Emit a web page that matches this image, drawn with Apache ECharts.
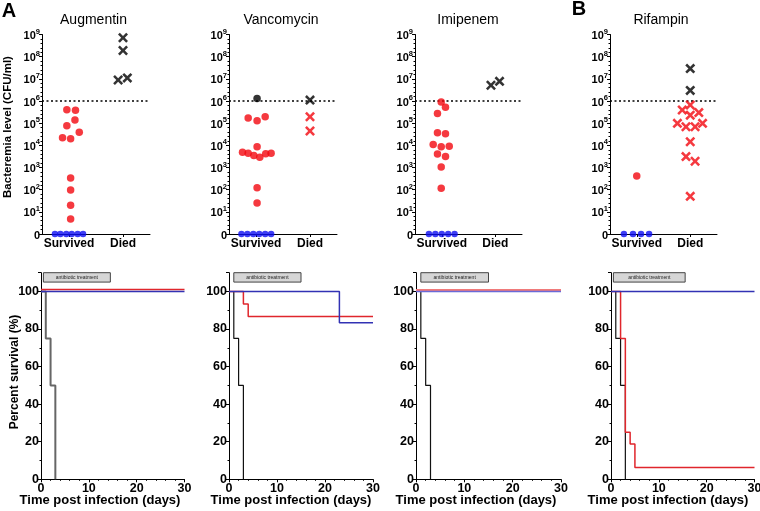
<!DOCTYPE html>
<html><head><meta charset="utf-8">
<script src="https://cdn.jsdelivr.net/npm/echarts@6/dist/echarts.min.js"></script>
<style>html,body{margin:0;padding:0;background:#fff}#c{width:760px;height:511px}</style>
</head><body><div id="c"></div>
<script>
const FONT = '"Liberation Sans", Arial, sans-serif';
const panelTitles = ['Augmentin', 'Vancomycin', 'Imipenem', 'Rifampin'];
const panelLetters = ['A', 'B'];
const groupLabels = ['Survived', 'Died'];
const decadeExponents = [0, 1, 2, 3, 4, 5, 6, 7, 8, 9];
const thresholdCFU = 1e6;

// ---- Bacteremia (CFU/ml); jitter = horizontal spread of the dot cloud (group units)
// Augmentin
const augSurvRed = [4.0e5, 3.8e5, 1.4e5, 7.6e4, 3.9e4, 2.2e4, 2.0e4, 340, 96, 20, 4.8];
const augSurvRedJit = [-0.04, 0.12, 0.11, -0.04, 0.19, -0.12, 0.03, 0.03, 0.03, 0.03, 0.03];
const augSurvZero = [0, 0, 0, 0, 0, 0];
const augSurvZeroJit = [-0.26, -0.16, -0.05, 0.05, 0.16, 0.26];
const augSurvBlack = [];
const augSurvBlackJit = [];
const augDiedBlack = [7.1e8, 1.9e8, 8.9e6, 1.1e7];
const augDiedBlackJit = [0, 0, -0.09, 0.08];
const augDiedRed = [];
const augDiedRedJit = [];
// Vancomycin
const vanSurvRed = [1.7e5, 1.3e5, 1.95e5, 8.7e3, 4.9e3, 4.4e3, 3.5e3, 2.9e3, 4.2e3, 4.4e3, 123, 25];
const vanSurvRedJit = [-0.145, 0.02, 0.17, 0.02, -0.25, -0.145, -0.04, 0.07, 0.18, 0.28, 0.02, 0.02];
const vanSurvZero = [0, 0, 0, 0, 0, 0];
const vanSurvZeroJit = [-0.27, -0.16, -0.05, 0.06, 0.17, 0.28];
const vanSurvBlack = [1.3e6];
const vanSurvBlackJit = [0.02];
const vanDiedBlack = [1.1e6];
const vanDiedBlackJit = [0];
const vanDiedRed = [1.95e5, 4.4e4];
const vanDiedRedJit = [0, 0];
// Imipenem
const imiSurvRed = [9e5, 5.2e5, 2.7e5, 3.7e4, 3.3e4, 1.1e4, 8.7e3, 9.1e3, 4.1e3, 3.1e3, 1.05e3, 115];
const imiSurvRedJit = [-0.01, 0.07, -0.08, -0.08, 0.07, -0.16, -0.01, 0.14, -0.08, 0.07, -0.01, -0.01];
const imiSurvZero = [0, 0, 0, 0, 0];
const imiSurvZeroJit = [-0.24, -0.12, 0, 0.12, 0.24];
const imiSurvBlack = [];
const imiSurvBlackJit = [];
const imiDiedBlack = [5.1e6, 7.7e6];
const imiDiedBlackJit = [-0.08, 0.08];
const imiDiedRed = [];
const imiDiedRedJit = [];
// Rifampin
const rifSurvRed = [410];
const rifSurvRedJit = [0];
const rifSurvZero = [0, 0, 0, 0];
const rifSurvZeroJit = [-0.24, -0.07, 0.08, 0.23];
const rifSurvBlack = [];
const rifSurvBlackJit = [];
const rifDiedBlack = [2.9e7, 3.0e6];
const rifDiedBlackJit = [0, 0];
const rifDiedRed = [6.6e5, 3.9e5, 3.0e5, 2.3e5, 9.8e4, 6.9e4, 6.9e4, 9.8e4, 1.45e4, 3.1e3, 1.9e3, 50];
const rifDiedRedJit = [0, -0.15, 0.16, 0, -0.24, -0.08, 0.09, 0.23, 0, -0.08, 0.09, 0];

// ---- Survival (Kaplan-Meier), day / percent
const surv0Days = [0, 1, 2, 3];
const surv0Pct = [100, 75, 50, 0];
const augRedDays = [0, 30], augRedPct = [101, 101];
const augBlueDays = [0, 30], augBluePct = [100, 100];
const vanRedDays = [0, 3, 4, 30], vanRedPct = [100, 93.3, 86.7, 86.7];
const vanBlueDays = [0, 23, 30], vanBluePct = [100, 83.3, 83.3];
const imiRedDays = [0, 30], imiRedPct = [100.8, 100.8];
const imiBlueDays = [0, 30], imiBluePct = [100, 100];
const rifRedDays = [0, 2, 3, 4, 5, 30], rifRedPct = [100, 75, 25, 18.75, 6.25, 6.25];
const rifBlueDays = [0, 30], rifBluePct = [100, 100];
const abxStartDay = [0.5, 1, 1, 0.5];
const abxEndDay = [14.5, 15, 15, 15.5];
const abxLow = 105, abxHigh = 110;
const survTicks = [0, 20, 40, 60, 80, 100];

const bact = [
  {sr: augSurvRed, srj: augSurvRedJit, sz: augSurvZero, szj: augSurvZeroJit, sb: augSurvBlack, sbj: augSurvBlackJit, db: augDiedBlack, dbj: augDiedBlackJit, dr: augDiedRed, drj: augDiedRedJit},
  {sr: vanSurvRed, srj: vanSurvRedJit, sz: vanSurvZero, szj: vanSurvZeroJit, sb: vanSurvBlack, sbj: vanSurvBlackJit, db: vanDiedBlack, dbj: vanDiedBlackJit, dr: vanDiedRed, drj: vanDiedRedJit},
  {sr: imiSurvRed, srj: imiSurvRedJit, sz: imiSurvZero, szj: imiSurvZeroJit, sb: imiSurvBlack, sbj: imiSurvBlackJit, db: imiDiedBlack, dbj: imiDiedBlackJit, dr: imiDiedRed, drj: imiDiedRedJit},
  {sr: rifSurvRed, srj: rifSurvRedJit, sz: rifSurvZero, szj: rifSurvZeroJit, sb: rifSurvBlack, sbj: rifSurvBlackJit, db: rifDiedBlack, dbj: rifDiedBlackJit, dr: rifDiedRed, drj: rifDiedRedJit}
];
const surv = [
  {rd: augRedDays, rp: augRedPct, bd: augBlueDays, bp: augBluePct, gray: true},
  {rd: vanRedDays, rp: vanRedPct, bd: vanBlueDays, bp: vanBluePct},
  {rd: imiRedDays, rp: imiRedPct, bd: imiBlueDays, bp: imiBluePct},
  {rd: rifRedDays, rp: rifRedPct, bd: rifBlueDays, bp: rifBluePct}
];

// ---- layout
const topGrids = [
  {left: 42, width: 108}, {left: 229, width: 108}, {left: 415, width: 107}, {left: 610, width: 107}
];
const botGrids = [
  {left: 41, width: 143.5}, {left: 229, width: 144}, {left: 416, width: 145}, {left: 611, width: 143.5}
];
const TOP_T = 34.5, TOP_H = 199.5;
const BOT_T = 272.7, BOT_H = 206.6;

const RED = '#f2080f', BLUE = '#0c0cf2', BLK = '#000';
const XPATH = 'path://M1.8,0 L5,3.2 L8.2,0 L10,1.8 L6.8,5 L10,8.2 L8.2,10 L5,6.8 L1.8,10 L0,8.2 L3.2,5 L0,1.8 Z';
const lg = v => v > 0 ? Math.log10(v) : 0;
// group positions on the hidden x value axis: Survived = 1, Died = 2
const pts = (vals, jit, g) => vals.map((v, i) => [g + jit[i], lg(v)]);
const zip = (a, b) => a.map((v, i) => [v, b[i]]);

const grid = [], xAxis = [], yAxis = [], series = [], graphic = [];
const lblBold = {fontFamily: FONT, fontWeight: 'bold', color: '#000'};

topGrids.forEach((g, i) => {
  grid.push({left: g.left, width: g.width, top: TOP_T, height: TOP_H, outerBoundsMode: 'none'});
  const gi = grid.length - 1;
  // visible category axis carrying the group labels
  xAxis.push({
    gridIndex: gi, type: 'category', data: groupLabels, boundaryGap: true, position: 'bottom',
    axisLine: {onZero: false, lineStyle: {color: '#000', width: 1}},
    axisTick: {show: true, alignWithLabel: true, length: 3, lineStyle: {color: '#000'}},
    axisLabel: {margin: 4, fontSize: 12, interval: 0, ...lblBold},
    splitLine: {show: false}
  });
  // hidden value axis used to place the jittered points
  xAxis.push({
    gridIndex: gi, type: 'value', min: 0.5, max: 2.5, show: false, position: 'bottom',
    axisLine: {show: false, onZero: false}, splitLine: {show: false}
  });
  const xi = xAxis.length - 1;
  yAxis.push({
    gridIndex: gi, type: 'value', min: 0, max: 9, interval: 1,
    axisLine: {show: true, onZero: false, lineStyle: {color: '#000', width: 1}},
    axisTick: {show: true, length: 3, lineStyle: {color: '#000'}},
    minorTick: {show: true, splitNumber: 5, length: 1.5, lineStyle: {color: '#000'}},
    axisLabel: {
      margin: 2,
      formatter: v => v === 0 ? '{b|0}' : '{b|10}{s|' + v + '}',
      rich: {
        b: {fontSize: 11, ...lblBold, lineHeight: 14, verticalAlign: 'bottom'},
        s: {fontSize: 7.5, ...lblBold, lineHeight: 14, verticalAlign: 'top', padding: [0, 0, 4, 0]}
      }
    },
    splitLine: {show: false}
  });
  const yi = yAxis.length - 1;
  const d = bact[i];
  const base = {type: 'scatter', xAxisIndex: xi, yAxisIndex: yi, silent: true, z: 5};
  series.push({...base, name: 'sr' + i, data: pts(d.sr, d.srj, 1), symbol: 'circle', symbolSize: 7.5, itemStyle: {color: RED},
    markLine: {silent: true, symbol: 'none', label: {show: false},
      lineStyle: {type: [2, 2.5], color: '#000', width: 1.5},
      data: [{yAxis: lg(thresholdCFU)}]}});
  series.push({...base, name: 'sz' + i, data: pts(d.sz, d.szj, 1), symbol: 'circle', symbolSize: 6.5, itemStyle: {color: BLUE}});
  series.push({...base, name: 'sb' + i, data: pts(d.sb, d.sbj, 1), symbol: 'circle', symbolSize: 7.5, itemStyle: {color: BLK}});
  series.push({...base, name: 'db' + i, data: pts(d.db, d.dbj, 2), symbol: XPATH, symbolSize: 10, itemStyle: {color: BLK}});
  series.push({...base, name: 'dr' + i, data: pts(d.dr, d.drj, 2), symbol: XPATH, symbolSize: 10, itemStyle: {color: RED}});
});

botGrids.forEach((g, i) => {
  grid.push({left: g.left, width: g.width, top: BOT_T, height: BOT_H, outerBoundsMode: 'none'});
  const gi = grid.length - 1;
  xAxis.push({
    gridIndex: gi, type: 'value', min: 0, max: 30, interval: 10,
    axisLine: {onZero: false, lineStyle: {color: '#000', width: 1}},
    axisTick: {length: 3, lineStyle: {color: '#000'}},
    minorTick: {show: true, splitNumber: 5, length: 1.5, lineStyle: {color: '#000'}},
    axisLabel: {margin: 3, fontSize: 12.5, ...lblBold},
    splitLine: {show: false}
  });
  const xi = xAxis.length - 1;
  yAxis.push({
    gridIndex: gi, type: 'value', min: 0, max: 110, interval: 20,
    axisLine: {show: true, onZero: false, lineStyle: {color: '#000', width: 1}},
    axisTick: {length: 3, lineStyle: {color: '#000'}},
    minorTick: {show: true, splitNumber: 2, length: 1.5, lineStyle: {color: '#000'}},
    axisLabel: {margin: 2, fontSize: 12.5, ...lblBold, formatter: v => survTicks.includes(v) ? String(v) : ''},
    splitLine: {show: false}
  });
  const yi = yAxis.length - 1;
  const s = surv[i];
  const lineBase = {type: 'line', xAxisIndex: xi, yAxisIndex: yi, step: 'end', symbol: 'none', silent: true};
  series.push({...lineBase, name: 'k' + i, data: zip(surv0Days, surv0Pct), z: 3,
    lineStyle: {color: s.gray ? '#666' : '#111', width: s.gray ? 2 : 1.2},
    markArea: {silent: true,
      itemStyle: {color: '#d6d6d6', borderColor: '#444', borderWidth: 1},
      label: {show: true, position: 'inside', fontSize: 5, color: '#222', fontFamily: FONT, formatter: 'antibiotic treatment'},
      data: [[{xAxis: abxStartDay[i], yAxis: abxLow}, {xAxis: abxEndDay[i], yAxis: abxHigh}]]}});
  series.push({...lineBase, name: 'r' + i, data: zip(s.rd, s.rp), z: 4,
    lineStyle: {color: i === 2 ? '#f07a7a' : '#e0262c', width: i === 2 ? 2.2 : 1.5}});
  series.push({...lineBase, name: 'b' + i, data: zip(s.bd, s.bp), z: 5,
    lineStyle: {color: i === 2 ? '#6a6ad8' : '#3232b4', width: 1.5}});
});

// ---- text
const txt = (x, y, text, font, extra) => Object.assign({
  type: 'text', x: x, y: y, silent: true,
  style: {text: text, font: font, fill: '#000', textAlign: 'center', textVerticalAlign: 'middle', align: 'center', verticalAlign: 'middle'}
}, extra || {});
graphic.push(txt(9, 11, panelLetters[0], 'bold 20px ' + FONT));
graphic.push(txt(579, 9, panelLetters[1], 'bold 20px ' + FONT));
const titleX = [93.5, 281, 468, 661];
panelTitles.forEach((t, i) => graphic.push(txt(titleX[i], 20, t, '14px ' + FONT)));
graphic.push(txt(8, 127, 'Bacteremia level (CFU/ml)', 'bold 11.5px ' + FONT, {rotation: Math.PI / 2}));
graphic.push(txt(15, 372, 'Percent survival (%)', 'bold 12px ' + FONT, {rotation: Math.PI / 2}));
const xNameX = [100, 291, 476, 668];
xNameX.forEach(x => graphic.push(txt(x, 500, 'Time post infection (days)', 'bold 13px ' + FONT)));

const chart = echarts.init(document.getElementById('c'), null, {renderer: 'canvas'});
chart.setOption({animation: false, backgroundColor: '#fff', grid, xAxis, yAxis, series, graphic});
</script></body></html>
